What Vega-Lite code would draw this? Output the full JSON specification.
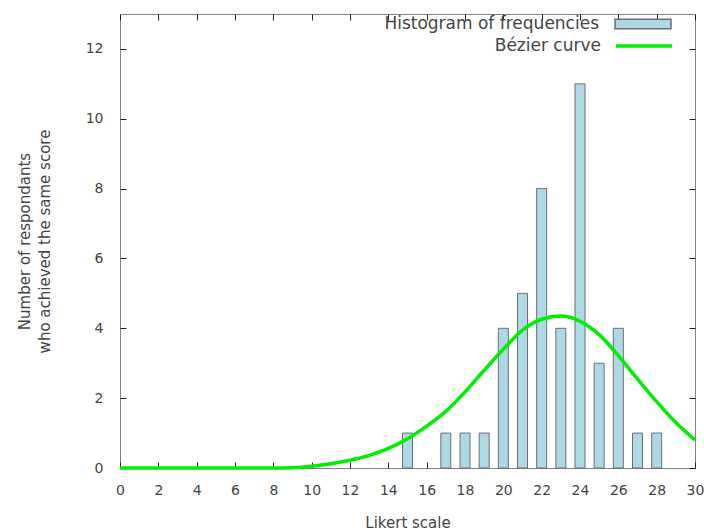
{
  "$schema": "https://vega.github.io/schema/vega-lite/v6.json",
  "autosize": "none",
  "width": 575,
  "height": 454,
  "padding": {"left": 120, "top": 14, "right": 9, "bottom": 64},
  "background": "white",
  "config": {
    "font": "DejaVu Sans",
    "view": {"stroke": "#808080", "strokeWidth": 1},
    "axis": {
      "grid": false,
      "domain": false,
      "tickColor": "#222222",
      "tickSize": -6,
      "tickWidth": 1,
      "labelOverlap": false,
      "labelFlush": false,
      "labelFont": "DejaVu Sans",
      "labelFontSize": 14,
      "labelColor": "#444444",
      "titleFont": "DejaVu Sans",
      "titleFontSize": 15,
      "titleFontWeight": "normal",
      "titleColor": "#444444"
    },
    "legend": {
      "title": null,
      "orient": "none",
      "padding": 0,
      "labelAlign": "right",
      "labelOffset": -73,
      "labelLimit": 400,
      "labelFontSize": 17,
      "labelColor": "#444444",
      "labelFont": "DejaVu Sans",
      "symbolSize": 3136
    }
  },
  "datasets": {
    "hist": [
      {"score": 15, "count": 1, "series": "Histogram of frequencies"},
      {"score": 17, "count": 1, "series": "Histogram of frequencies"},
      {"score": 18, "count": 1, "series": "Histogram of frequencies"},
      {"score": 19, "count": 1, "series": "Histogram of frequencies"},
      {"score": 20, "count": 4, "series": "Histogram of frequencies"},
      {"score": 21, "count": 5, "series": "Histogram of frequencies"},
      {"score": 22, "count": 8, "series": "Histogram of frequencies"},
      {"score": 23, "count": 4, "series": "Histogram of frequencies"},
      {"score": 24, "count": 11, "series": "Histogram of frequencies"},
      {"score": 25, "count": 3, "series": "Histogram of frequencies"},
      {"score": 26, "count": 4, "series": "Histogram of frequencies"},
      {"score": 27, "count": 1, "series": "Histogram of frequencies"},
      {"score": 28, "count": 1, "series": "Histogram of frequencies"}
    ],
    "curve": [
      {"score": 0, "value": 0, "series": "Bézier curve"},
      {"score": 2, "value": 0, "series": "Bézier curve"},
      {"score": 4, "value": 0, "series": "Bézier curve"},
      {"score": 6, "value": 0, "series": "Bézier curve"},
      {"score": 8, "value": 0, "series": "Bézier curve"},
      {"score": 9, "value": 0.01, "series": "Bézier curve"},
      {"score": 10, "value": 0.05, "series": "Bézier curve"},
      {"score": 11, "value": 0.12, "series": "Bézier curve"},
      {"score": 12, "value": 0.22, "series": "Bézier curve"},
      {"score": 13, "value": 0.36, "series": "Bézier curve"},
      {"score": 14, "value": 0.56, "series": "Bézier curve"},
      {"score": 15, "value": 0.84, "series": "Bézier curve"},
      {"score": 16, "value": 1.2, "series": "Bézier curve"},
      {"score": 17, "value": 1.62, "series": "Bézier curve"},
      {"score": 18, "value": 2.18, "series": "Bézier curve"},
      {"score": 19, "value": 2.8, "series": "Bézier curve"},
      {"score": 20, "value": 3.4, "series": "Bézier curve"},
      {"score": 21, "value": 3.95, "series": "Bézier curve"},
      {"score": 22, "value": 4.26, "series": "Bézier curve"},
      {"score": 23, "value": 4.35, "series": "Bézier curve"},
      {"score": 24, "value": 4.2, "series": "Bézier curve"},
      {"score": 25, "value": 3.82, "series": "Bézier curve"},
      {"score": 26, "value": 3.22, "series": "Bézier curve"},
      {"score": 27, "value": 2.55, "series": "Bézier curve"},
      {"score": 28, "value": 1.9, "series": "Bézier curve"},
      {"score": 29, "value": 1.3, "series": "Bézier curve"},
      {"score": 30, "value": 0.8, "series": "Bézier curve"}
    ]
  },
  "layer": [
    {
      "data": {"name": "hist"},
      "mark": {"type": "bar", "width": 10, "stroke": "#6e6e6e", "strokeWidth": 1},
      "encoding": {
        "x": {"field": "score", "type": "quantitative", "scale": {"domain": [0, 30], "nice": false, "padding": 0},
              "axis": {"title": "Likert scale", "values": [0,2,4,6,8,10,12,14,16,18,20,22,24,26,28,30], "labelPadding": 21, "titlePadding": 18}},
        "y": {"field": "count", "type": "quantitative", "scale": {"domain": [0, 13], "nice": false, "padding": 0},
              "axis": {"title": ["Number of respondants", "who achieved the same score"], "titleLineHeight": 20, "values": [0,2,4,6,8,10,12], "labelPadding": 23, "titlePadding": 33}},
        "fill": {"field": "series", "type": "nominal", "scale": {"range": ["#add8e6"]},
                 "legend": {"legendX": 494, "legendY": -19, "symbolType": "M-1,-0.17H1V0.17H-1Z", "symbolStrokeColor": "#6e6e6e", "symbolStrokeWidth": 1.5}}
      }
    },
    {
      "data": {"name": "curve"},
      "mark": {"type": "line", "strokeWidth": 3.5, "interpolate": "monotone"},
      "encoding": {
        "x": {"field": "score", "type": "quantitative", "axis": null},
        "y": {"field": "value", "type": "quantitative", "axis": null},
        "stroke": {"field": "series", "type": "nominal", "scale": {"range": ["#00ee00"]},
                   "legend": {"legendX": 494, "legendY": 2, "symbolType": "stroke", "symbolStrokeWidth": 3.5}}
      }
    },
    {
      "data": {"name": "hist"},
      "mark": {"type": "point", "opacity": 0},
      "encoding": {
        "x": {"field": "score", "type": "quantitative",
              "axis": {"orient": "top", "labels": false, "title": null, "values": [0,2,4,6,8,10,12,14,16,18,20,22,24,26,28,30]}},
        "y": {"field": "count", "type": "quantitative",
              "axis": {"orient": "right", "labels": false, "title": null, "values": [0,2,4,6,8,10,12]}}
      }
    }
  ],
  "resolve": {"axis": {"x": "independent", "y": "independent"}, "legend": {"fill": "independent", "stroke": "independent"}}
}
